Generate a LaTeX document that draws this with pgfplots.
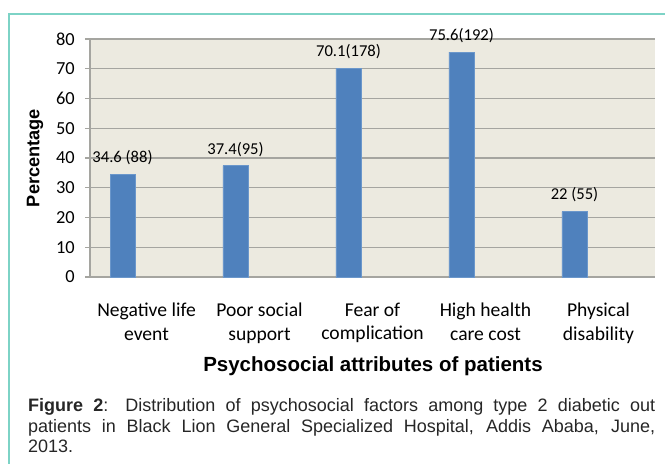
\documentclass[border=0pt]{standalone}
\usepackage{pgfplots}
\pgfplotsset{compat=1.18}
\usepackage{fontspec}
\setmainfont{Liberation Sans}
\newfontfamily\calibri{Carlito}
\definecolor{barblue}{HTML}{4F81BD}
\definecolor{baredge}{HTML}{6B97CB}
\definecolor{plotbg}{HTML}{ECEAE0}
\definecolor{gridgray}{HTML}{A5A5A0}
\definecolor{frameteal}{HTML}{7DD3C6}
\definecolor{captext}{HTML}{262626}
\begin{document}
\begin{tikzpicture}[x=1pt,y=1pt]
\path[use as bounding box] (0,0) rectangle (665,464);
\draw[frameteal, line width=1.6pt] (9,0) -- (9,450) -- (665,450);
\begin{axis}[
  at={(90pt,187pt)}, anchor=south west,
  width=565pt, height=238pt, scale only axis,
  xmin=-0.5, xmax=4.5, ymin=0, ymax=80,
  clip=false,
  /pgf/number format/assume math mode=true,
  axis lines*=left,
  axis line style={draw=gridgray, line width=1.2pt},
  axis background/.style={fill=plotbg},
  ymajorgrids,
  grid style={draw=gridgray, line width=1.2pt},
  ytick={0,10,...,80},
  tick align=outside,
  major tick length=5pt,
  tick style={draw=gridgray, line width=1.2pt},
  xtick={0,1,2,3,4},
  xticklabels={{Negative life\\event},{Poor social\\support},{Fear of\\complication},{High health\\care cost},{Physical\\disability}},
  xtick style={draw=none},
  xticklabel style={align=center, anchor=north, inner sep=0pt, yshift=-21pt,
    font=\calibri\fontsize{19.6}{23.3}\selectfont},
  extra x ticks={-0.5,0.5,1.5,2.5,3.5,4.5},
  extra x tick labels={},
  extra x tick style={grid=none, major tick length=6pt, tick style={draw=gridgray, line width=1.2pt}},
  yticklabel style={anchor=east, inner sep=0pt, xshift=-10pt,
    font=\calibri\fontsize{18.4}{20}\selectfont},
  ybar, bar width=25pt, bar shift=-24pt,
  point meta=explicit symbolic,
  nodes near coords,
  nodes near coords style={font=\calibri\fontsize{16.6}{18}\selectfont, anchor=base, inner sep=0pt, yshift=11.7pt, black},
]
\addplot[fill=barblue, draw=baredge, line width=0.8pt] coordinates {
  (0,34.6) [34.6 (88)]
  (1,37.4) [37.4(95)]
  (2,70.1) [70.1(178)]
  (3,75.6) [75.6(192)]
  (4,22)   [22 (55)]
};
\end{axis}
\node[rotate=90, inner sep=0pt, font=\fontsize{18.2}{20}\selectfont\bfseries] at (35,306) {Percentage};
\node[anchor=base, inner sep=0pt, font=\fontsize{20.5}{22}\selectfont\bfseries] at (373,92.3) {Psychosocial attributes of patients};
\begin{scope}[every node/.style={anchor=base west, inner sep=0pt, text=captext, font=\fontsize{18}{21}\selectfont}]
\node at (28,52.3) {\makebox[627pt][s]{\textbf{Figure 2}: Distribution of psychosocial factors among type 2 diabetic out}};
\node at (28,31.8) {\makebox[627pt][s]{patients in Black Lion General Specialized Hospital, Addis Ababa, June,}};
\node at (28,11.3) {2013.};
\end{scope}
\end{tikzpicture}
\end{document}
